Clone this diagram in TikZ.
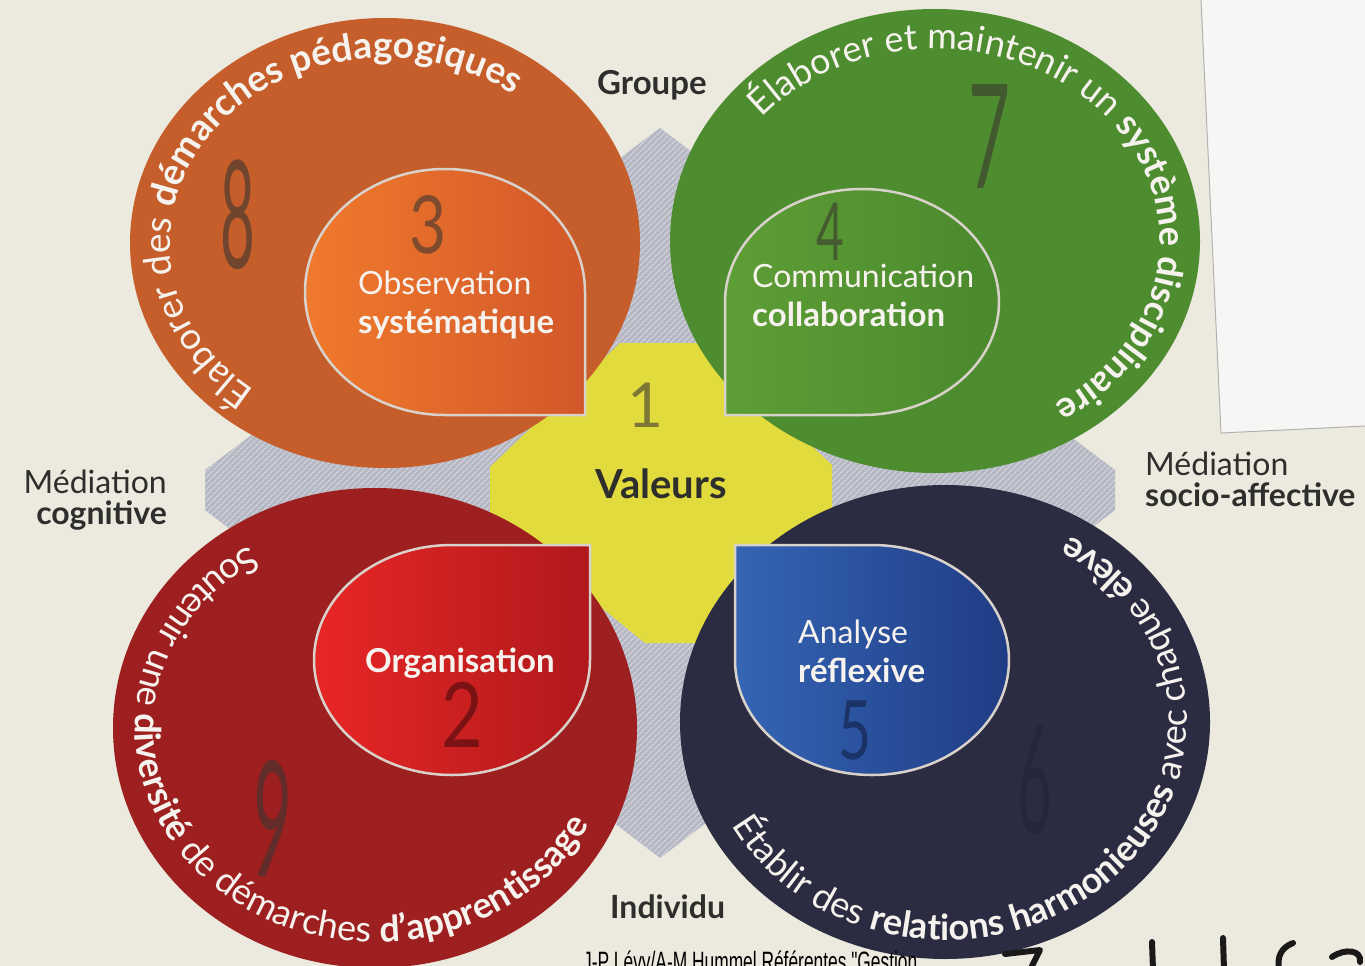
\documentclass[tikz,border=0pt]{standalone}
\usepackage{fontspec}
\setmainfont{Lato}
\newfontfamily\capfont{Liberation Sans}
\usetikzlibrary{decorations.text,patterns.meta}
\definecolor{paper}{HTML}{ECE9DF}
\definecolor{sheet}{HTML}{F6F6F4}
\definecolor{dgrey}{HTML}{B5B7C3}
\definecolor{dstripe}{HTML}{D3D4DC}
\definecolor{valyellow}{HTML}{E2DB3E}
\definecolor{orangeout}{HTML}{C55E2A}
\definecolor{greenout}{HTML}{4E8D2F}
\definecolor{redout}{HTML}{9D1F1F}
\definecolor{navyout}{HTML}{2B2C41}
\definecolor{orA}{HTML}{F07A2C}
\definecolor{orB}{HTML}{D2582A}
\definecolor{grA}{HTML}{5E9E36}
\definecolor{grB}{HTML}{4A892C}
\definecolor{rdA}{HTML}{E82626}
\definecolor{rdB}{HTML}{B0191C}
\definecolor{blA}{HTML}{3565B4}
\definecolor{blB}{HTML}{1F3C84}
\definecolor{dropedge}{HTML}{D9D2CB}
\definecolor{darktext}{HTML}{2E2E2C}
\definecolor{softwhite}{HTML}{F6F2EE}
\definecolor{pencil}{HTML}{3A3530}
\newcommand\arcreg{\fontsize{36}{36}\selectfont\color{softwhite}}
\newcommand\arcbold{\fontsize{36}{36}\selectfont\bfseries\color{softwhite}}
\newcommand\arcregL{\fontsize{37}{37}\selectfont\color{softwhite}}
\newcommand\arcboldL{\fontsize{37}{37}\selectfont\bfseries\color{softwhite}}
\tikzset{
  drop/.style={draw=dropedge, line width=2.5pt},
  label/.style={inner sep=0pt, text=darktext, font=\fontsize{32}{32}\selectfont},
  boldlabel/.style={label, font=\fontsize{32}{32}\selectfont\bfseries},
  inlabel/.style={inner sep=0pt, text=softwhite, font=\fontsize{32}{32}\selectfont},
  boldinlabel/.style={inlabel, font=\fontsize{33}{33}\selectfont\bfseries},
  handnum/.style={inner sep=0pt, text=pencil, opacity=0.6},
  marker/.style={line width=6pt, line cap=round, line join=round, black!90}
}
\begin{document}
\begin{tikzpicture}[x=1pt,y=-1pt]
\clip (0,0) rectangle (1365,966);
\fill[paper] (0,0) rectangle (1365,966);
% pasted sheet of paper
\fill[sheet] (1201,0) -- (1365,0) -- (1365,426) -- (1221,433) -- cycle;
\draw[black!30, line width=1pt] (1201,0) -- (1221,433) -- (1365,426);
% grey diamond
\path[fill=dgrey] (660,128) -- (1115,470) -- (1115,510) -- (660,858) -- (205,510) -- (205,470) -- cycle;
\path[pattern={Lines[angle=45,distance=4pt,line width=1.3pt]}, pattern color=dstripe]
  (660,128) -- (1115,470) -- (1115,510) -- (660,858) -- (205,510) -- (205,470) -- cycle;
% yellow centre
\fill[valyellow] (620,343) -- (703,343) -- (832,465) -- (832,513) -- (700,643) -- (645,643) -- (490,517) -- (490,467) -- cycle;
% outer circles
\fill[orangeout] (385,243) ellipse[x radius=255, y radius=225];
\fill[greenout] (935,241) ellipse[x radius=265, y radius=232];
\fill[redout] (375,728) ellipse[x radius=262, y radius=240];
\fill[navyout] (945,722) ellipse[x radius=265, y radius=237];
% inner drops
\path[drop, left color=orA, right color=orB]
  (445,415) arc[start angle=90, end angle=360, x radius=140, y radius=123] -- (585,415) -- cycle;
\path[drop, left color=grA, right color=grB]
  (725,302) arc[start angle=180, end angle=450, x radius=137, y radius=113] -- (725,415) -- cycle;
\path[drop, left color=rdA, right color=rdB]
  (590,660) arc[start angle=0, end angle=270, x radius=138, y radius=115] -- (590,545) -- cycle;
\path[drop, left color=blA, right color=blB]
  (872,545) arc[start angle=-90, end angle=180, x radius=137, y radius=115] -- (735,545) -- cycle;
% curved texts
\path[decorate, decoration={text along path, text align=center,
  text={|\arcregL|Élaborer des |\arcboldL|démarches pédagogiques}}]
  ([shift={(385,243)}]98:215 and 185) arc[start angle=98, end angle=338, x radius=215, y radius=185];
\path[decorate, decoration={text along path, text align=center,
  text={|\arcreg|Élaborer et maintenir un |\arcbold|système disciplinaire}}]
  ([shift={(935,241)}]198:225 and 192) arc[start angle=198, end angle=438, x radius=225, y radius=192];
\path[decorate, decoration={text along path, text align=center,
  text={|\arcreg|Soutenir une |\arcbold|diversité |\arcreg|de démarches |\arcbold|d’apprentissage}}]
  ([shift={(375,728)}]252:240 and 214) arc[start angle=252, end angle=12, x radius=240, y radius=214];
\path[decorate, decoration={text along path, text align=center,
  text={|\arcreg|Établir des |\arcbold|relations harmonieuses |\arcreg|avec chaque |\arcbold|élève}}]
  ([shift={(945,722)}]167:242 and 218) arc[start angle=167, end angle=-73, x radius=242, y radius=218];
% inner labels
\node[inlabel, anchor=base west] (obs1) at (358,294) {Observation};
\node[boldinlabel, anchor=base west] (obs2) at (358,333) {systématique};
\node[inlabel, anchor=base west] (com1) at (752,287) {Communication};
\node[boldinlabel, anchor=base west] (com2) at (752,326) {collaboration};
\node[boldinlabel, anchor=base west] (org) at (365,672) {Organisation};
\node[inlabel, anchor=base west] (ana1) at (798,643) {Analyse};
\node[boldinlabel, anchor=base west] (ana2) at (798,682) {réflexive};
% outer labels
\node[label, anchor=base west, font=\fontsize{40}{40}\selectfont\bfseries] (val) at (595,498) {Valeurs};
\node[boldlabel, anchor=base west, font=\fontsize{33}{33}\selectfont\bfseries] (grp) at (597,95) {Groupe};
\node[boldlabel, anchor=base west] (ind) at (610,918) {Individu};
\node[label, anchor=base east] (medl1) at (167,493) {Médiation};
\node[boldlabel, anchor=base east] (medl2) at (167,524) {cognitive};
\node[label, anchor=base west] (medr1) at (1145,475) {Médiation};
\node[boldlabel, anchor=base west] (medr2) at (1145,506) {socio-affective};
% handwritten numbers
\node[handnum, font=\fontsize{150}{150}\selectfont, xscale=0.4] (h8) at (238,215) {8};
\node[handnum, font=\fontsize{80}{80}\selectfont, xscale=0.8] (h3) at (428,225) {3};
\node[handnum, font=\fontsize{145}{145}\selectfont, xscale=0.5] (h7) at (990,137) {7};
\node[handnum, font=\fontsize{80}{80}\selectfont, xscale=0.6] (h4) at (830,232) {4};
\node[handnum, font=\fontsize{62}{62}\selectfont] (h1) at (645,405) {1};
\node[handnum, font=\fontsize{165}{165}\selectfont, xscale=0.4, rotate=-8] (h9) at (272,820) {9};
\node[handnum, text=rdB!40!black, font=\fontsize{90}{90}\selectfont, xscale=0.8] (h2) at (462,715) {2};
\node[handnum, text=blB!50!black, font=\fontsize{82}{82}\selectfont, xscale=0.7] (h5) at (855,730) {5};
\node[handnum, text=navyout!80!black, font=\fontsize{150}{150}\selectfont, xscale=0.4] (h6) at (1035,780) {6};
% caption
\node[inner sep=0pt, anchor=base west, font=\capfont\fontsize{28}{28}\selectfont, xscale=0.62] (cap) at (583,971) {J-P Lévy/A-M Hummel Référentes "Gestion};
% marker strokes
\draw[marker] (1005,954) -- (1040,950) -- (1030,970);
\draw[marker] (1152,942) -- (1153,970);
\draw[marker] (1223,938) -- (1224,970);
\draw[marker] (1293,943) .. controls (1280,948) and (1277,958) .. (1279,970);
\draw[marker] (1332,957) .. controls (1345,948) and (1362,950) .. (1360,962);
\end{tikzpicture}
\end{document}
